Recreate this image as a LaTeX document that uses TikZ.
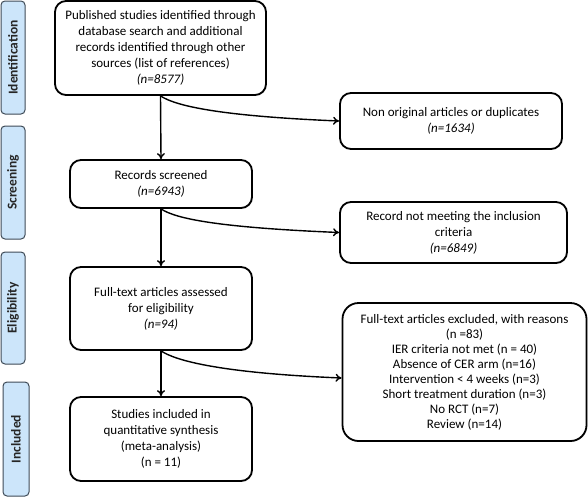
\documentclass[tikz,border=0pt]{standalone}
\usepackage{fontspec}
\setmainfont{Carlito}
\usetikzlibrary{arrows.meta,shadows}
\definecolor{sidefill}{HTML}{CCE5FA}
\definecolor{sideline}{HTML}{3F4B57}
\begin{document}
\begin{tikzpicture}[x=1pt,y=-1pt,
  box/.style={draw=black,line width=1.8pt,rounded corners=11pt,align=center,
    inner sep=1pt,font=\fontsize{13}{16}\selectfont,fill=white,
    drop shadow={shadow xshift=0.8pt,shadow yshift=-0.8pt,opacity=0.35}},
  side/.style={draw=sideline,line width=1pt,fill=sidefill,rounded corners=4pt,
    font=\fontsize{13.5}{14}\selectfont\bfseries,text=black!85,inner sep=0pt},
  arr/.style={-{To[length=6pt,width=8pt]},line width=1.4pt}]
\useasboundingbox (0,0) rectangle (588,498);
% side labels
\node[side,minimum width=24pt,minimum height=113pt] (sid) at (13,57.5) {\rotatebox{90}{Identification}};
\node[side,minimum width=24pt,minimum height=113pt] (ssc) at (13,182.5) {\rotatebox{90}{Screening}};
\node[side,minimum width=24pt,minimum height=112pt] (sel) at (13,308) {\rotatebox{90}{Eligibility}};
\node[side,minimum width=26pt,minimum height=114pt] (sin) at (16,439) {\rotatebox{90}{Included}};
% main boxes
\node[box,minimum width=211pt,minimum height=94pt] (b1) at (160.5,48) {Published studies identified through\\database search and additional\\records identified through other\\sources (list of references)\\\textit{(n=8577)}};
\node[box,minimum width=182pt,minimum height=48pt] (b2) at (161,184) {Records screened\\\textit{(n=6943)}};
\node[box,minimum width=182pt,minimum height=83pt] (b3) at (161,308.5) {Full-text articles assessed\\for eligibility\\\textit{(n=94)}};
\node[box,minimum width=182pt,minimum height=84pt] (b4) at (161,439) {Studies included in\\quantitative synthesis\\(meta-analysis)\\(n = 11)};
% right boxes
\node[box,minimum width=222pt,minimum height=56pt] (r1) at (451,121) {Non original articles or duplicates\\\textit{(n=1634)}};
\node[box,minimum width=227pt,minimum height=61pt] (r2) at (453.5,232.5) {Record not meeting the inclusion\\criteria\\\textit{(n=6849)}};
\node[box,minimum width=244pt,minimum height=138pt,rounded corners=16pt,font=\fontsize{13}{15}\selectfont] (r3) at (464.5,372) {Full-text articles excluded, with reasons\\(n =83)\\IER criteria not met (n = 40)\\Absence of CER arm (n=16)\\Intervention < 4 weeks (n=3)\\Short treatment duration (n=3)\\No RCT (n=7)\\Review (n=14)};
% vertical arrows
\draw[arr] (b1.south) -- (b2.north);
\draw[arr] (b2.south) -- (b3.north);
\draw[arr] (b3.south) -- (b4.north);
% curved arrows
\draw[arr] (b1.south) .. controls ([xshift=15pt,yshift=-10pt]b1.south) and ([xshift=-120pt,yshift=5pt]r1.west) .. (r1.west);
\draw[arr] (b2.south) .. controls ([xshift=15pt,yshift=-10pt]b2.south) and ([xshift=-120pt,yshift=5pt]r2.west) .. (r2.west);
\coordinate (r3in) at ([yshift=-6pt]r3.west);
\draw[arr] (b3.south) .. controls ([xshift=15pt,yshift=-10pt]b3.south) and ([xshift=-120pt,yshift=5pt]r3in) .. (r3in);
\end{tikzpicture}
\end{document}
